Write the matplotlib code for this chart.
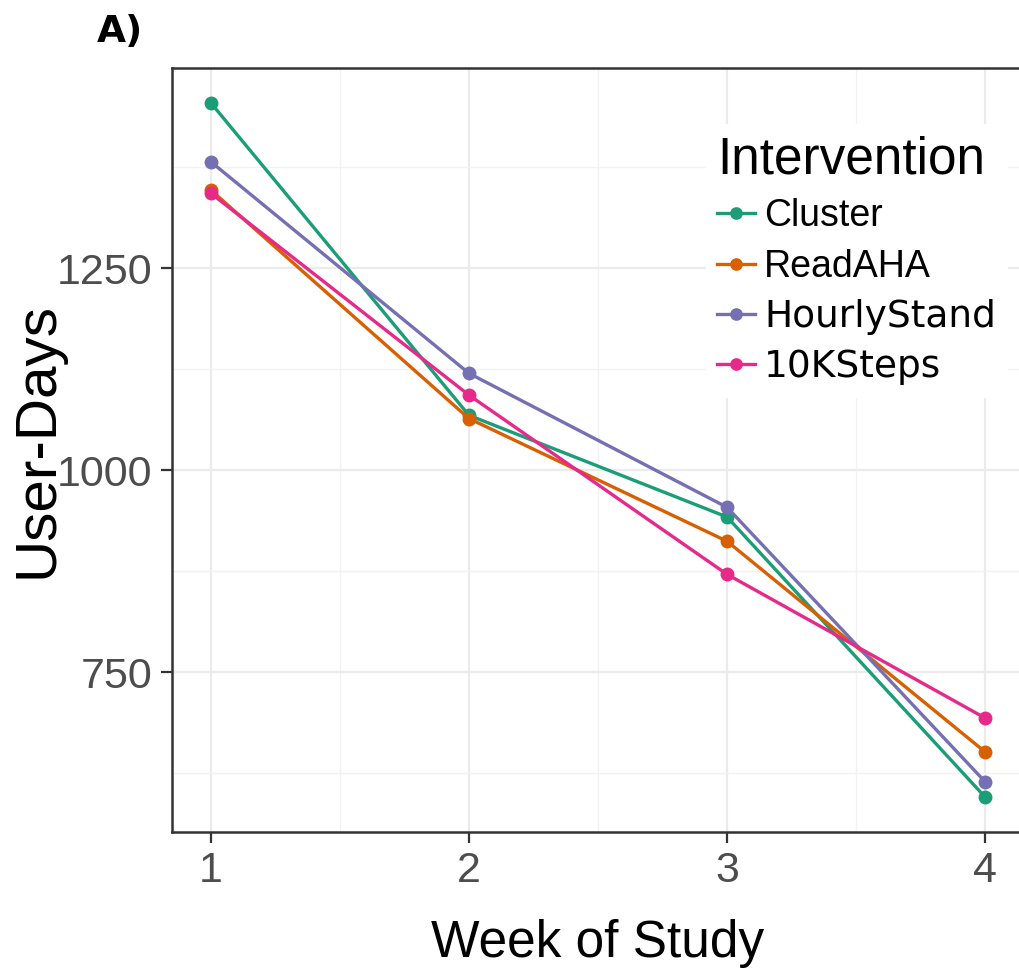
import matplotlib
matplotlib.use("Agg")
import matplotlib.pyplot as plt
from matplotlib.ticker import FixedLocator

# Weekly user-day counts per intervention
weeks = [1, 2, 3, 4]
interventions = ["Cluster", "ReadAHA", "HourlyStand", "10KSteps"]
cluster = [1455, 1068, 942, 595]
read_aha = [1347, 1064, 912, 651]
hourly_stand = [1382, 1120, 954, 614]
steps_10k = [1343, 1093, 871, 693]
series = [cluster, read_aha, hourly_stand, steps_10k]
colors = ["#1B9E77", "#D95F02", "#7570B3", "#E7298A"]

y_major = [750, 1000, 1250]
y_minor = [625, 875, 1125, 1375]
x_minor = [1.5, 2.5, 3.5]

SANS = ["Liberation Sans", "DejaVu Sans"]

W, H = 1020, 976
fig = plt.figure(figsize=(W / 100, H / 100), dpi=100)
ax = fig.add_axes([172 / W, 1 - 832 / H, 852 / W, (832 - 68) / H])

ax.set_xlim(0.85, 4.15)
ax.set_ylim(552, 1498)

# theme_bw-style grid
ax.xaxis.set_major_locator(FixedLocator(weeks))
ax.yaxis.set_major_locator(FixedLocator(y_major))
ax.xaxis.set_minor_locator(FixedLocator(x_minor))
ax.yaxis.set_minor_locator(FixedLocator(y_minor))
ax.grid(which="major", color="#EBEBEB", linewidth=1.6)
ax.grid(which="minor", color="#F2F2F2", linewidth=1.0)
ax.set_axisbelow(True)

for sp in ax.spines.values():
    sp.set_color("#333333")
    sp.set_linewidth(1.8)

ax.tick_params(which="major", direction="out", length=8, width=1.6,
               color="#333333", labelcolor="#4D4D4D", labelsize=31, pad=6)
ax.tick_params(which="minor", length=0)
ax.set_xticklabels([str(w) for w in weeks])
ax.set_yticklabels([str(v) for v in y_major])
for lab in ax.get_xticklabels() + ax.get_yticklabels():
    lab.set_fontfamily(SANS)

for name, vals, c in zip(interventions, series, colors):
    ax.plot(weeks, vals, color=c, linewidth=2.4, marker="o", markersize=9,
            label=name, clip_on=False)

ax.set_xlabel("Week of Study", fontsize=37, family=SANS, labelpad=20)
fig.text(38 / W, 1 - 440 / H, "User-Days", fontsize=42, family=SANS,
         rotation=90, ha="center", va="center")

leg = ax.legend(loc="upper left", bbox_to_anchor=(706 / W, 1 - 124 / H),
                bbox_transform=fig.transFigure, title="Intervention",
                fontsize=27, title_fontsize=37, frameon=True, fancybox=False,
                framealpha=1.0, facecolor="white", edgecolor="white",
                handlelength=1.0, handletextpad=0.25, labelspacing=0.38,
                borderpad=0.3, markerscale=0.9, borderaxespad=0)
leg._legend_box.align = "left"
leg.get_title().set_fontfamily(SANS)
for t in leg.get_texts()[:2]:
    t.set_fontfamily(SANS)
for t in leg.get_texts()[2:]:
    t.set_fontfamily(["DejaVu Sans"])

fig.text(97 / W, 1 - 42 / H, "A)", fontsize=27, fontweight="bold",
         family=["DejaVu Sans"], ha="left", va="baseline")

fig.savefig("out.png", dpi=100, facecolor="white")
